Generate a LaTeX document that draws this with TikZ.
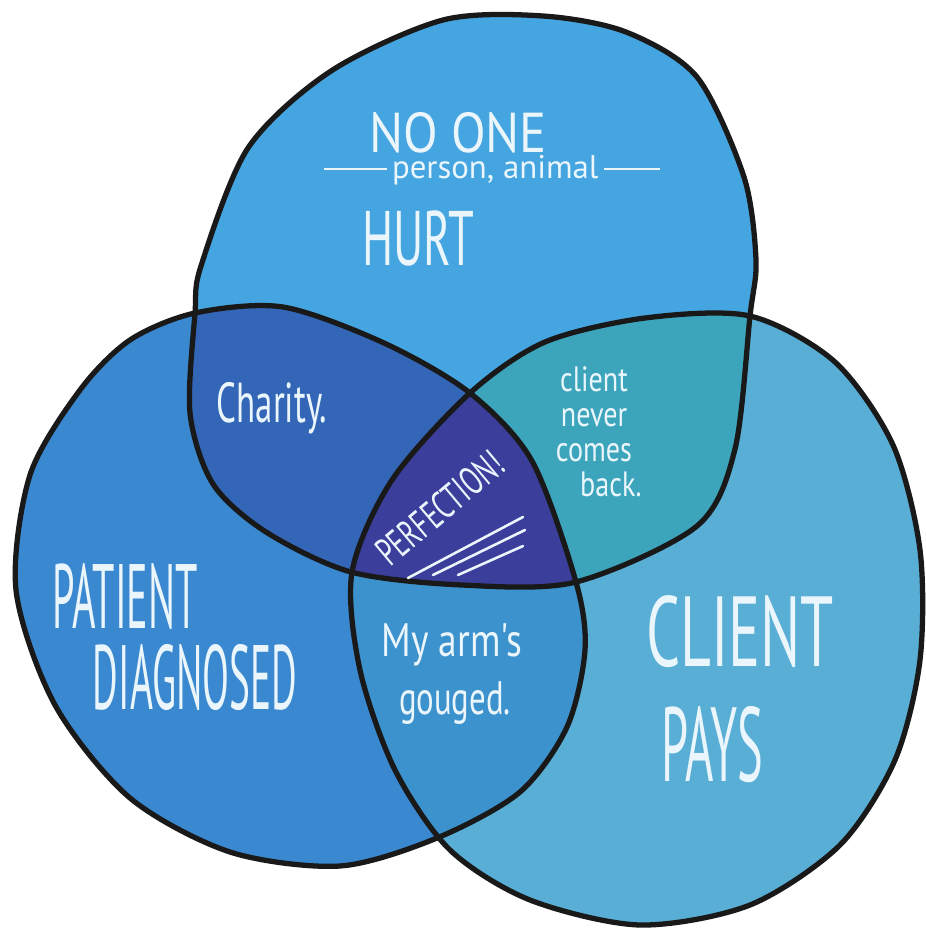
\documentclass[tikz,border=0pt]{standalone}
\usepackage{fontspec}
\newfontfamily\handfont{PT Sans}
\usetikzlibrary{positioning}

\definecolor{hurtblue}{HTML}{45A5E0}
\definecolor{diagblue}{HTML}{3A88D0}
\definecolor{paysblue}{HTML}{58AED5}
\definecolor{charityblue}{HTML}{3466B8}
\definecolor{neverteal}{HTML}{3CA5BC}
\definecolor{armblue}{HTML}{3C92CC}
\definecolor{perfblue}{HTML}{3C3E9C}
\definecolor{handwhite}{HTML}{EAF6FB}

% the three hand drawn blobs, in pixel units
\newcommand{\hurtblob}{plot[smooth cycle] coordinates {(195,313) (190,413) (213,484) (266,532)
  (351,572) (462,585) (576,582) (697,526) (735,449) (750,316) (756,260) (744,177)
  (697,77) (626,32) (543,16) (443,20) (331,71) (248,148) (201,266)}}
\newcommand{\diagblob}{plot[smooth cycle] coordinates {(195,313) (283,307) (384,343) (470,393)
  (532,461) (576,582) (585,650) (567,727) (520,792) (437,838) (340,866) (230,852)
  (130,798) (55,705) (16,590) (30,475) (80,390) (130,340)}}
\newcommand{\paysblob}{plot[smooth cycle] coordinates {(470,393) (545,342) (645,318) (750,316)
  (835,362) (893,445) (920,550) (920,660) (895,760) (840,845) (750,905) (640,925)
  (530,900) (450,850) (395,770) (360,670) (352,572) (392,480)}}

\begin{document}
\begin{tikzpicture}[x=0.03cm, y=-0.03cm,
    outline/.style={draw=black!90, line width=4.5pt, line join=round},
    hand/.style={text=handwhite, font=\handfont, inner sep=0pt},
    underl/.style={draw=handwhite, line width=2.2pt, line cap=round}]
  \useasboundingbox[fill=white] (0,0) rectangle (926,941);
  % plain regions
  \fill[paysblue] \paysblob;
  \fill[diagblue] \diagblob;
  \fill[hurtblue] \hurtblob;
  % two-way overlaps
  \begin{scope} \clip \hurtblob; \fill[charityblue] \diagblob; \end{scope}
  \begin{scope} \clip \hurtblob; \fill[neverteal] \paysblob; \end{scope}
  \begin{scope} \clip \diagblob; \fill[armblue] \paysblob; \end{scope}
  % all three
  \begin{scope} \clip \hurtblob; \clip \diagblob; \fill[perfblue] \paysblob; \end{scope}
  \draw[outline] \hurtblob;
  \draw[outline] \diagblob;
  \draw[outline] \paysblob;

  \node[hand, font=\handfont\fontsize{48}{48}\selectfont, xscale=0.9] (noone) at (458,133) {NO ONE};
  \node[hand, font=\handfont\fontsize{28}{28}\selectfont] (person) at (492,170)
    {\rule[0.25em]{1.9em}{2pt}\,person, animal\,\rule[0.25em]{1.7em}{2pt}};
  \node[hand, font=\handfont\fontsize{66}{66}\selectfont, xscale=0.6] (hurt) at (418,238) {HURT};
  \node[hand, font=\handfont\fontsize{48}{48}\selectfont, xscale=0.62] (charity) at (272,408) {Charity.};
  \node[hand, font=\handfont\fontsize{30}{30}\selectfont, xscale=0.8, align=center] (never) at (594,432)
    {client\\never\\comes\\\hspace*{1.2em}back.};
  \node[hand, font=\handfont\fontsize{34}{34}\selectfont, rotate=40] (perf) at (440,508)
    {\scalebox{0.66}[1]{PERFECTION!}};
  \draw[underl] (408,578) -- (523,517);
  \draw[underl] (433,575) -- (525,530);
  \draw[underl] (458,575) -- (523,546);
  \node[hand, font=\handfont\fontsize{78}{78}\selectfont, xscale=0.44] (patient) at (125,597) {PATIENT};
  \node[hand, font=\handfont\fontsize{78}{78}\selectfont, xscale=0.43] (diag) at (195,678) {DIAGNOSED};
  \node[hand, font=\handfont\fontsize{40}{40}\selectfont, xscale=0.8] (arm) at (452,645) {My arm's};
  \node[hand, font=\handfont\fontsize{40}{40}\selectfont, xscale=0.7] (gouged) at (455,703) {gouged.};
  \node[hand, font=\handfont\fontsize{85}{85}\selectfont, xscale=0.6] (client) at (740,632) {CLIENT};
  \node[hand, font=\handfont\fontsize{90}{90}\selectfont, xscale=0.46] (pays) at (712,745) {PAYS};
\end{tikzpicture}
\end{document}
